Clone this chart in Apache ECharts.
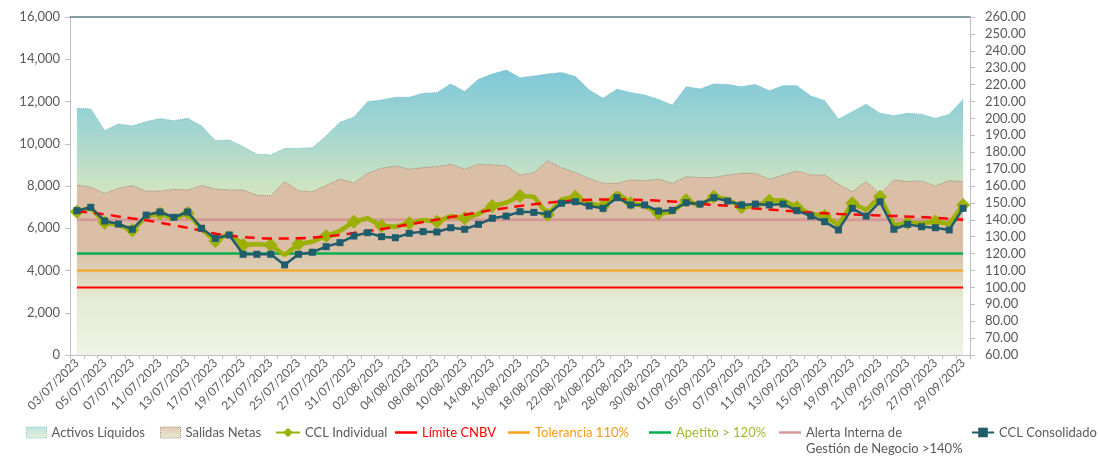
<!DOCTYPE html>
<html>
<head>
<meta charset="utf-8">
<script src="https://cdn.jsdelivr.net/npm/echarts@6/dist/echarts.min.js"></script>
<style>html,body{margin:0;padding:0;background:#fff}#c{width:1098px;height:456px}</style>
</head>
<body>
<div id="c"></div>
<script>
const categories = [
 '03/07/2023','04/07/2023','05/07/2023','06/07/2023','07/07/2023','10/07/2023','11/07/2023','12/07/2023','13/07/2023','14/07/2023',
 '17/07/2023','18/07/2023','19/07/2023','20/07/2023','21/07/2023','24/07/2023','25/07/2023','26/07/2023','27/07/2023','28/07/2023',
 '31/07/2023','01/08/2023','02/08/2023','03/08/2023','04/08/2023','07/08/2023','08/08/2023','09/08/2023','10/08/2023','11/08/2023',
 '14/08/2023','15/08/2023','16/08/2023','17/08/2023','18/08/2023','21/08/2023','22/08/2023','23/08/2023','24/08/2023','25/08/2023',
 '28/08/2023','29/08/2023','30/08/2023','31/08/2023','01/09/2023','04/09/2023','05/09/2023','06/09/2023','07/09/2023','08/09/2023',
 '11/09/2023','12/09/2023','13/09/2023','14/09/2023','15/09/2023','18/09/2023','19/09/2023','20/09/2023','21/09/2023','22/09/2023',
 '25/09/2023','26/09/2023','27/09/2023','28/09/2023','29/09/2023'
];
const activosLiquidos = [
 11680,11650,10620,10935,10840,11045,11190,11090,11205,10840,
 10145,10180,9860,9500,9470,9770,9780,9810,10370,11015,
 11260,11990,12070,12200,12200,12390,12420,12830,12470,13050,
 13300,13490,13130,13210,13300,13370,13180,12545,12150,12580,
 12420,12310,12100,11820,12700,12590,12830,12810,12700,12810,
 12510,12750,12750,12260,12040,11160,11520,11870,11440,11330,
 11440,11390,11200,11390,12100
];
const salidasNetas = [
 8050,7940,7650,7890,8020,7760,7760,7840,7810,8020,
 7860,7810,7810,7570,7530,8210,7780,7730,8020,8330,
 8140,8600,8840,8950,8790,8870,8920,9030,8790,9030,
 9000,8960,8520,8630,9200,8870,8630,8360,8130,8130,
 8290,8250,8330,8130,8440,8400,8400,8520,8600,8600,
 8320,8520,8710,8520,8520,8080,7730,8210,7620,8290,
 8210,8240,8000,8250,8210
];
const cclIndividual = [
 144.8,147.0,138.3,137.0,133.8,141.8,143.8,140.5,144.0,134.5,
 127.5,132.0,125.1,125.7,125.1,119.2,125.7,127.0,130.4,133.4,
 138.9,140.9,136.3,135.9,137.9,139.9,138.9,142.2,140.9,143.4,
 148.2,150.1,154.1,153.7,143.0,152.0,153.7,149.8,148.0,156.0,
 149.8,148.2,143.8,144.5,151.5,148.2,153.7,152.1,147.4,148.2,
 151.2,151.6,147.4,143.6,142.2,136.9,149.8,145.8,153.7,136.9,
 138.3,137.9,139.0,137.5,148.8
];
const cclConsolidado = [
 145.4,147.4,139.3,137.5,134.4,142.8,144.6,141.5,144.6,135.0,
 129.0,131.0,119.6,119.6,119.6,113.3,119.6,120.8,124.1,126.5,
 130.4,132.4,130.0,129.4,132.0,133.0,132.8,135.3,134.4,137.3,
 140.9,142.2,144.8,144.4,143.3,149.8,150.7,148.2,146.8,153.1,
 148.8,148.8,145.2,145.6,150.1,149.3,153.1,151.1,148.8,149.3,
 148.8,149.3,145.4,142.2,138.9,134.0,146.8,142.2,150.7,134.4,
 137.3,135.9,135.3,134.0,146.8
];
const tendencia = [
 145.0,144.2,143.2,142.0,140.8,139.7,138.3,136.8,135.2,133.5,
 131.8,130.6,129.8,129.3,129.0,129.0,129.1,129.5,130.2,131.0,
 132.2,133.3,134.5,135.9,137.3,138.7,140.1,141.6,143.0,144.4,
 145.8,147.0,148.2,149.2,150.1,150.8,151.4,151.8,152.0,152.0,
 151.9,151.7,151.3,150.8,150.2,149.4,148.8,148.3,147.5,146.7,
 146.1,145.5,144.8,144.3,143.9,143.5,143.2,142.9,142.6,142.3,
 141.9,141.6,141.2,140.6,140.0
];
const limiteCNBV = 100;
const tolerancia = 110;
const apetito = 120;
const alertaInterna = 140;
const leftTicks = {min: 0, max: 16000, interval: 2000};
const rightTicks = {min: 60, max: 260, interval: 10};

const FONT = 'Lato';
const GREY = '#595959';
const constLine = v => categories.map(() => v);

const chart = echarts.init(document.getElementById('c'), null, {renderer: 'canvas'});

const activosGrad = new echarts.graphic.LinearGradient(0, 0, 0, 1, [
  {offset: 0, color: '#7fc8d8'},
  {offset: 0.22, color: '#a5d6d0'},
  {offset: 0.45, color: '#d6e6c0'},
  {offset: 1, color: '#eff3e3'}
]);
const salidasGrad = new echarts.graphic.LinearGradient(0, 0, 0, 1, [
  {offset: 0, color: 'rgba(218,190,166,1)'},
  {offset: 0.45, color: 'rgba(218,190,166,1)'},
  {offset: 0.7, color: 'rgba(218,190,166,0.08)'},
  {offset: 1, color: 'rgba(218,190,166,0)'}
]);
// thin bar icon inside a 22x12 box (tiny corner specks keep the box size)
const BAR_ICON = 'path://M0,0 L0.01,0 L0,0.01 Z M0,4.8 L22,4.8 L22,7.2 L0,7.2 Z M22,12 L21.99,12 L22,11.99 Z';

function lg(name, left, opts) {
  return Object.assign({
    show: true, orient: 'horizontal', left: left, top: 426, padding: 0,
    itemWidth: 22, itemHeight: 12, selectedMode: false,
    textStyle: {fontFamily: FONT, fontSize: 13, color: GREY},
    data: [name]
  }, opts || {});
}
function lineLg(name, left, color, textColor, extra) {
  return lg(name, left, Object.assign({
    data: [{name: name, icon: BAR_ICON, itemStyle: {color: color},
      textStyle: {color: textColor}}]
  }, extra || {}));
}

const option = {
  animation: false,
  backgroundColor: '#ffffff',
  grid: {left: 70, right: 128, top: 17, bottom: 101, containLabel: false},
  legend: [
    lg('Activos Líquidos', 26, {itemWidth: 20, itemHeight: 11, data: [{name: 'Activos Líquidos', icon: 'rect',
      itemStyle: {color: new echarts.graphic.LinearGradient(0,0,0,1,[{offset:0,color:'#bfe3de'},{offset:1,color:'#e8f0d8'}]), borderColor: '#7fc4d4', borderWidth: 1, borderType: 'dotted'}}]}),
    lg('Salidas Netas', 160, {itemWidth: 20, itemHeight: 11, data: [{name: 'Salidas Netas', icon: 'rect',
      itemStyle: {color: new echarts.graphic.LinearGradient(0,0,0,1,[{offset:0,color:'#e3c9b6'},{offset:1,color:'#e6ead0'}]), borderColor: '#a89080', borderWidth: 1, borderType: 'dotted'}}]}),
    lg('CCL Individual', 275, {itemWidth: 24}),
    lineLg('Límite CNBV', 395, '#ff0000', '#ff0000'),
    lineLg('Tolerancia 110%', 508, '#f7a21b', '#f59a12'),
    lineLg('Apetito > 120%', 649, '#00b050', '#9bbb2c'),
    lineLg('Alerta Interna de Gestión de Negocio >140%', 779, '#d59a98', GREY, {formatter: () => 'Alerta Interna de'}),
    lg('CCL Consolidado', 971)
  ],
  graphic: [{
    type: 'text', left: 806, top: 442,
    style: {text: 'Gestión de Negocio >140%', fill: GREY, font: '13px ' + FONT}
  }],
  xAxis: [{
    type: 'category', data: categories, boundaryGap: true, position: 'bottom',
    axisLine: {show: true, lineStyle: {color: '#bfbfbf', width: 1}},
    axisTick: {show: true, interval: 0, length: 4, lineStyle: {color: '#bfbfbf'}},
    axisLabel: {interval: 1, rotate: 45, fontFamily: FONT, fontSize: 12, color: GREY, margin: 6},
    splitLine: {show: false}
  }, {
    type: 'category', data: categories, boundaryGap: true, position: 'top',
    axisLine: {show: true, lineStyle: {color: '#5f7d88', width: 1.5}},
    axisTick: {show: false}, axisLabel: {show: false}, splitLine: {show: false}
  }],
  yAxis: [{
    type: 'value', position: 'left', min: leftTicks.min, max: leftTicks.max, interval: leftTicks.interval,
    axisLine: {show: true, lineStyle: {color: '#bfbfbf'}},
    axisTick: {show: true, length: 5, lineStyle: {color: '#bfbfbf'}},
    axisLabel: {fontFamily: FONT, fontSize: 13, color: GREY, margin: 10,
      formatter: v => v.toLocaleString('en-US')},
    splitLine: {show: false}
  }, {
    type: 'value', position: 'right', min: rightTicks.min, max: rightTicks.max, interval: rightTicks.interval,
    axisLine: {show: true, lineStyle: {color: '#bfbfbf'}},
    axisTick: {show: true, length: 5, lineStyle: {color: '#bfbfbf'}},
    axisLabel: {fontFamily: FONT, fontSize: 13, color: GREY, margin: 15,
      formatter: v => v.toFixed(2)},
    splitLine: {show: false}
  }],
  series: [
    {name: 'Activos Líquidos', type: 'line', yAxisIndex: 0, data: activosLiquidos, symbol: 'none', z: 1,
      lineStyle: {color: '#6cbccd', width: 1, type: 'dotted'}, itemStyle: {color: '#a5d6d0'},
      areaStyle: {color: activosGrad, opacity: 1}},
    {name: 'Salidas Netas', type: 'line', yAxisIndex: 0, data: salidasNetas, symbol: 'none', z: 2,
      lineStyle: {color: '#a08a7a', width: 1, type: 'dotted'}, itemStyle: {color: '#dcc0a8'},
      areaStyle: {color: salidasGrad, opacity: 1}},
    {name: 'CCL Individual', type: 'line', yAxisIndex: 1, data: cclIndividual, z: 5,
      symbol: 'diamond', symbolSize: 14, showSymbol: true,
      lineStyle: {color: '#9bb000', width: 4.5}, itemStyle: {color: '#9bb000'}},
    {name: 'Límite CNBV', type: 'line', yAxisIndex: 1, data: constLine(limiteCNBV), symbol: 'none', z: 4,
      lineStyle: {color: '#ff0000', width: 2}, itemStyle: {color: '#ff0000'}},
    {name: 'Tolerancia 110%', type: 'line', yAxisIndex: 1, data: constLine(tolerancia), symbol: 'none', z: 4,
      lineStyle: {color: '#f7a21b', width: 2}, itemStyle: {color: '#f7a21b'}},
    {name: 'Apetito > 120%', type: 'line', yAxisIndex: 1, data: constLine(apetito), symbol: 'none', z: 4,
      lineStyle: {color: '#00b050', width: 2.5}, itemStyle: {color: '#00b050'}},
    {name: 'Alerta Interna de Gestión de Negocio >140%', type: 'line', yAxisIndex: 1, data: constLine(alertaInterna), symbol: 'none', z: 4,
      lineStyle: {color: '#d59a98', width: 3}, itemStyle: {color: '#d59a98'}},
    {name: 'Tendencia', type: 'line', yAxisIndex: 1, data: tendencia, symbol: 'none', smooth: true, z: 6,
      lineStyle: {color: '#ff0000', width: 2.5, type: [10, 7]}},
    {name: 'CCL Consolidado', type: 'line', yAxisIndex: 1, data: cclConsolidado, z: 7,
      symbol: 'rect', symbolSize: 7, showSymbol: true,
      lineStyle: {color: '#1f5c6c', width: 2.5}, itemStyle: {color: '#1f5c6c'}}
  ]
};
chart.setOption(option);
</script>
</body>
</html>
